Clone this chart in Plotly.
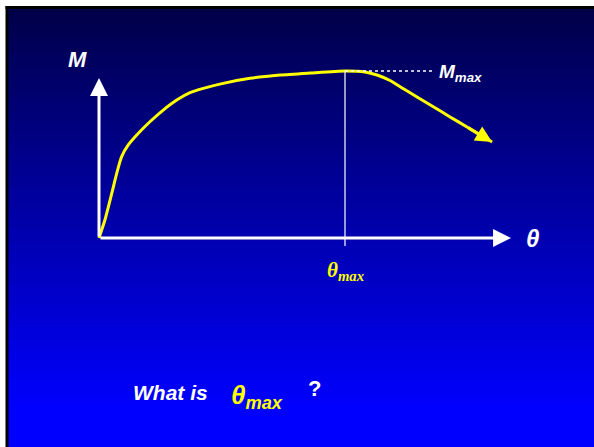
import plotly.graph_objects as go

# ---- data (theta normalised so theta_max = 1, M normalised so M_max = 1)
theta = [0.0, 0.024, 0.052, 0.072, 0.092, 0.119, 0.160, 0.207, 0.261, 0.316,
         0.370, 0.424, 0.505, 0.614, 0.736, 0.858, 1.0, 1.081, 1.130, 1.183,
         1.224, 1.291, 1.359, 1.427, 1.496, 1.549, 1.598]
moment = [0.0, 0.108, 0.268, 0.387, 0.487, 0.557, 0.627, 0.696, 0.766, 0.826,
          0.870, 0.896, 0.926, 0.956, 0.976, 0.988, 1.0, 0.994, 0.976, 0.943,
          0.906, 0.846, 0.786, 0.725, 0.665, 0.617, 0.575]
theta_max = 1.0
m_max = 1.0
theta_axis_end = 1.675
m_axis_end = 0.958

W, H = 594, 447
# figure extent in data units (origin at pixel 99,238)
sx, sy = 246.0, 167.0
ox, oy = 99.0, 238.0
x_range = [(0 - ox) / sx, (W - ox) / sx]
y_range = [(oy - H) / sy, (oy - 0) / sy]

fig = go.Figure()

# background gradient strips (paper coords); each strip runs to the bottom so no gaps show
shapes = []
top_px, bot_px = 8.5, 447
n = 140
c0, c1 = 72, 255
grad_end = 410.0
for i in range(n):
    y0p = top_px + (bot_px - top_px) * i / n
    ym = top_px + (bot_px - top_px) * (i + 0.5) / n
    t = min(max((ym - top_px) / (grad_end - top_px), 0), 1)
    b = int(round(c0 + (c1 - c0) * t))
    shapes.append(dict(type="rect", xref="paper", yref="paper", layer="below",
                       x0=8.0 / W, x1=1.0, y0=0, y1=1 - y0p / H,
                       fillcolor=f"rgb(0,0,{b})", line=dict(width=0)))
# black border left and top
shapes.append(dict(type="rect", xref="paper", yref="paper", layer="below",
                   x0=5.5 / W, x1=8.5 / W, y0=0, y1=1 - 6 / H,
                   fillcolor="black", line=dict(width=0)))
shapes.append(dict(type="rect", xref="paper", yref="paper", layer="below",
                   x0=5.5 / W, x1=1, y0=1 - 9 / H, y1=1 - 6 / H,
                   fillcolor="black", line=dict(width=0)))

# vertical line at theta_max and dotted line at M_max
shapes.append(dict(type="line", xref="x", yref="y", x0=theta_max, x1=theta_max,
                   y0=-0.048, y1=m_max, line=dict(color="white", width=1.2)))
shapes.append(dict(type="line", xref="x", yref="y", x0=theta_max, x1=1.354,
                   y0=m_max, y1=m_max, line=dict(color="white", width=1.5, dash="dot")))

fig.add_trace(go.Scatter(x=theta, y=moment, mode="lines",
                         line=dict(color="#FFFF00", width=3, shape="spline", smoothing=0.6),
                         hoverinfo="skip", showlegend=False))

font_b = "Liberation Sans, Arial, sans-serif"
annotations = [
    # axes arrows
    dict(x=theta_axis_end, y=0, ax=0, ay=0, xref="x", yref="y", axref="x", ayref="y",
         showarrow=True, arrowhead=2, arrowsize=1.2, arrowwidth=3, arrowcolor="white", text=""),
    dict(x=0, y=m_axis_end, ax=0, ay=0, xref="x", yref="y", axref="x", ayref="y",
         showarrow=True, arrowhead=2, arrowsize=1.2, arrowwidth=3, arrowcolor="white", text=""),
    # curve end arrow
    dict(x=theta[-1], y=moment[-1], ax=theta[-3], ay=moment[-3], xref="x", yref="y",
         axref="x", ayref="y", showarrow=True, arrowhead=2, arrowsize=1.1, arrowwidth=3,
         arrowcolor="#FFFF00", text=""),
    # labels
    dict(x=-0.089, y=1.066, xref="x", yref="y", showarrow=False, xanchor="center", yanchor="middle",
         text="<b><i>M</i></b>", font=dict(family=font_b, size=22, color="white")),
    dict(x=1.764, y=0.0, xref="x", yref="y", showarrow=False, xanchor="center", yanchor="middle",
         text="<b><i>θ</i></b>", font=dict(family=font_b, size=24, color="white")),
    dict(x=1.375, y=0.99, xref="x", yref="y", showarrow=False, xanchor="left", yanchor="middle",
         text="<b><i>M<sub>max</sub></i></b>", font=dict(family=font_b, size=19, color="white")),
    dict(x=theta_max, y=-0.2, xref="x", yref="y", showarrow=False, xanchor="center", yanchor="middle",
         text="<b><i>θ<sub>max</sub></i></b>",
         font=dict(family="Liberation Serif, Times New Roman, serif", size=21, color="#FFFF00")),
    dict(x=131 / W, y=1 - 392 / H, xref="paper", yref="paper", showarrow=False,
         xanchor="left", yanchor="middle",
         text="<b><i>What is</i></b>", font=dict(family=font_b, size=21, color="white")),
    dict(x=229 / W, y=1 - 396 / H, xref="paper", yref="paper", showarrow=False,
         xanchor="left", yanchor="middle",
         text="<b><i>θ<sub>max</sub></i></b>", font=dict(family=font_b, size=26, color="#FFFF00")),
    dict(x=314 / W, y=1 - 388 / H, xref="paper", yref="paper", showarrow=False,
         xanchor="center", yanchor="middle",
         text="<b>?</b>", font=dict(family=font_b, size=22, color="white")),
]

fig.update_layout(
    width=W, height=H, margin=dict(l=0, r=0, t=0, b=0),
    paper_bgcolor="white", plot_bgcolor="rgba(0,0,0,0)",
    shapes=shapes, annotations=annotations, showlegend=False,
    xaxis=dict(range=x_range, visible=False, fixedrange=True),
    yaxis=dict(range=y_range, visible=False, fixedrange=True),
)

fig.write_html("out.html", config={"displayModeBar": False},
               post_script="document.body.style.margin='0';document.body.style.overflow='hidden';")
